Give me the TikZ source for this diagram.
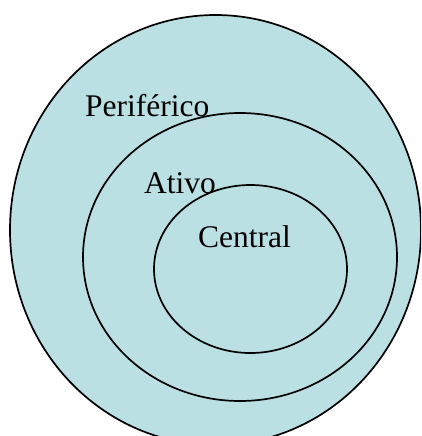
\documentclass[tikz,border=0pt]{standalone}
\usepackage{fontspec}
\setmainfont{Liberation Serif}
\definecolor{ringfill}{HTML}{BBE0E3}
\begin{document}
\begin{tikzpicture}[x=1pt,y=-1pt,
  ring/.style={draw=black,line width=1.7pt,fill=ringfill},
  lbl/.style={anchor=base west,inner sep=0pt,font=\fontsize{31.5}{36}\selectfont}]
\useasboundingbox (0,0) rectangle (421,436);
\clip (0,0) rectangle (421,436);
\fill[white] (0,0) rectangle (421,436);
\draw[ring] (215.5,230) ellipse [x radius=205.5,y radius=215];
\draw[ring] (240,257) ellipse [x radius=157,y radius=144];
\draw[ring] (250.5,269) ellipse [x radius=96.5,y radius=84];
\node[lbl] (per) at (85,116) {Periférico};
\node[lbl] (ati) at (144,193) {Ativo};
\node[lbl] (cen) at (198,247) {Central};
\end{tikzpicture}
\end{document}
